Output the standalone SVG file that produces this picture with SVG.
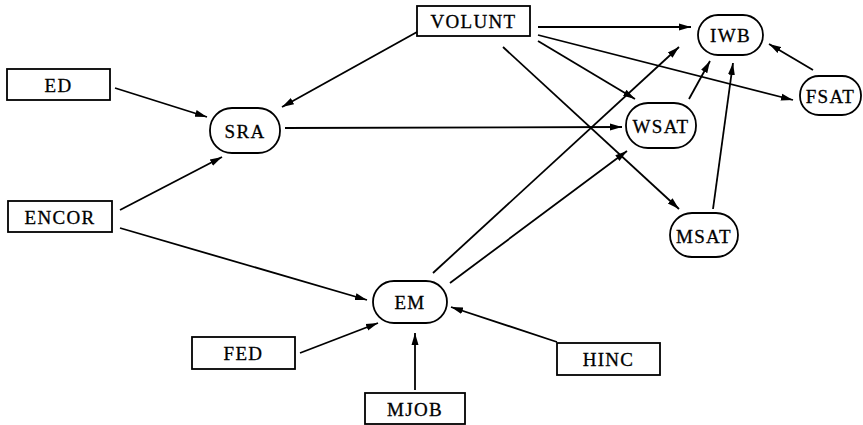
<svg xmlns="http://www.w3.org/2000/svg" width="863" height="425" viewBox="0 0 863 425">
  <style>
    .box { fill: #fff; stroke: #000; stroke-width: 1.8; }
    .oval { fill: #fff; stroke: #000; stroke-width: 1.8; }
    .lbl { font-family: "Liberation Serif", "Times New Roman", serif; font-size: 19px; letter-spacing: 1.3px; text-anchor: middle; dominant-baseline: central; fill: #000; stroke: #000; stroke-width: 0.3px; }
    .edge { fill: none; stroke: #000; stroke-width: 1.8; marker-end: url(#arr); }
  </style>
  <defs>
    <marker id="arr" markerUnits="userSpaceOnUse" markerWidth="13" markerHeight="9" refX="12" refY="4.5" orient="auto">
      <path d="M0,1 L12,4.5 L0,8 Z" fill="#000"/>
    </marker>
  </defs>
  <rect width="863" height="425" fill="#fff"/>
  <g id="connectors">
    <line class="edge" x1="115" y1="88" x2="207" y2="117"/>
    <line class="edge" x1="417" y1="32" x2="282" y2="107"/>
    <line class="edge" x1="120" y1="210" x2="222" y2="157"/>
    <line class="edge" x1="285" y1="128" x2="622" y2="127"/>
    <line class="edge" x1="538" y1="27" x2="691" y2="27"/>
    <line class="edge" x1="538" y1="35" x2="793" y2="100"/>
    <line class="edge" x1="538" y1="41" x2="635" y2="99"/>
    <line class="edge" x1="503" y1="47" x2="679" y2="209"/>
    <line class="edge" x1="813" y1="70" x2="769" y2="44"/>
    <line class="edge" x1="689" y1="99" x2="710" y2="61"/>
    <line class="edge" x1="713" y1="209" x2="733" y2="63"/>
    <line class="edge" x1="120" y1="228" x2="367" y2="300"/>
    <line class="edge" x1="300" y1="353" x2="378" y2="323"/>
    <line class="edge" x1="415" y1="390" x2="415" y2="333"/>
    <line class="edge" x1="557" y1="342" x2="451" y2="307"/>
    <line class="edge" x1="433" y1="273" x2="679" y2="47"/>
    <line class="edge" x1="450" y1="283" x2="627" y2="151"/>
  </g>
  <g id="ED"><rect class="box" x="7" y="69" width="103" height="31"/><text class="lbl" x="58.5" y="85">ED</text></g>
  <g id="ENCOR"><rect class="box" x="8" y="201" width="104" height="31"/><text class="lbl" x="60" y="217">ENCOR</text></g>
  <g id="VOLUNT"><rect class="box" x="417" y="6" width="113" height="30"/><text class="lbl" x="473.5" y="21">VOLUNT</text></g>
  <g id="FED"><rect class="box" x="192" y="337" width="103" height="32"/><text class="lbl" x="243.5" y="353">FED</text></g>
  <g id="MJOB"><rect class="box" x="365" y="393" width="100" height="31"/><text class="lbl" x="415" y="409">MJOB</text></g>
  <g id="HINC"><rect class="box" x="557" y="343" width="103" height="32"/><text class="lbl" x="608.5" y="359">HINC</text></g>
  <g id="SRA"><rect class="oval" x="210" y="108" width="70" height="45" rx="22" ry="22"/><text class="lbl" x="245" y="131">SRA</text></g>
  <g id="IWB"><rect class="oval" x="698" y="15" width="65" height="40" rx="20" ry="20"/><text class="lbl" x="730.5" y="35">IWB</text></g>
  <g id="FSAT"><rect class="oval" x="800" y="76" width="61" height="39" rx="19" ry="19"/><text class="lbl" x="830.5" y="96">FSAT</text></g>
  <g id="WSAT"><rect class="oval" x="626" y="103" width="70" height="45" rx="22" ry="22"/><text class="lbl" x="661" y="126">WSAT</text></g>
  <g id="MSAT"><rect class="oval" x="670" y="213" width="68" height="44" rx="22" ry="22"/><text class="lbl" x="704" y="236">MSAT</text></g>
  <g id="EM"><rect class="oval" x="373" y="281" width="74" height="42" rx="21" ry="21"/><text class="lbl" x="410" y="302">EM</text></g>
</svg>
